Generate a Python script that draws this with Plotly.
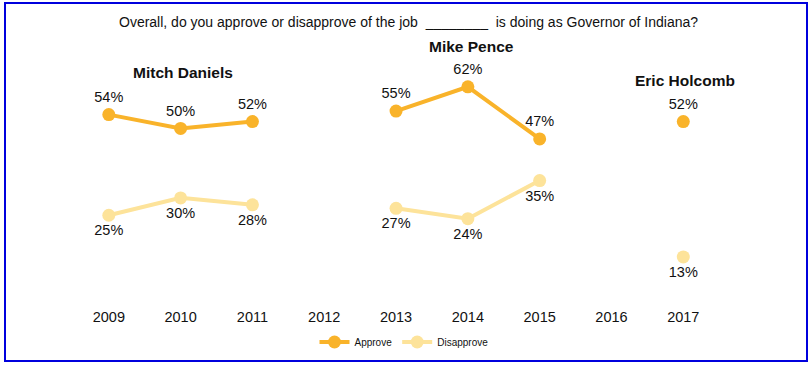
import plotly.graph_objects as go

years = [2009, 2010, 2011, 2012, 2013, 2014, 2015, 2016, 2017]
approve = [54, 50, 52, None, 55, 62, 47, None, 52]
disapprove = [25, 30, 28, None, 27, 24, 35, None, 13]
governors = ["Mitch Daniels", "Mike Pence", "Eric Holcomb"]
gov_x = [2010.03, 2014.05, 2017.03]
gov_y = [66, 73.5, 63.7]

title = "Overall, do you approve or disapprove of the job  ________  is doing as Governor of Indiana?"

C_APP = "#F9B32A"
C_DIS = "#FDE39A"
FONT = "Liberation Sans, Arial"

W, H = 812, 369
L, R, T, B = 37, 21, 7, 67

def lbl(v):
    return [f"{x}%" if x is not None else "" for x in v]

fig = go.Figure()
fig.add_trace(go.Scatter(
    x=years, y=approve, name="Approve", mode="lines+markers+text",
    line=dict(color=C_APP, width=4), marker=dict(size=13, color=C_APP),
    text=lbl(approve), textposition="top center",
    textfont=dict(size=14.5, color="#111", family=FONT),
    connectgaps=False, cliponaxis=False))
fig.add_trace(go.Scatter(
    x=years, y=disapprove, name="Disapprove", mode="lines+markers+text",
    line=dict(color=C_DIS, width=4), marker=dict(size=13, color=C_DIS),
    text=lbl(disapprove), textposition="bottom center",
    textfont=dict(size=14.5, color="#111", family=FONT),
    connectgaps=False, cliponaxis=False))

for name, gx, gy in zip(governors, gov_x, gov_y):
    fig.add_annotation(x=gx, y=gy, text=f"<b>{name}</b>", showarrow=False,
                       xanchor="center", yanchor="middle",
                       font=dict(size=15.5, color="#111", family=FONT))

pw, ph = W - L - R, H - T - B
def px(x):
    return (x - L) / pw
def py(y):
    return (H - B - y) / ph

fig.add_shape(type="rect", xref="paper", yref="paper",
              x0=px(5), x1=px(807), y0=py(361), y1=py(3),
              line=dict(color="#0000DD", width=2), fillcolor="rgba(0,0,0,0)")

fig.add_annotation(xref="paper", yref="paper", x=px(408), y=py(22),
                   xanchor="center", yanchor="middle",
                   text=title, showarrow=False,
                   font=dict(size=14, color="#111", family=FONT))

fig.update_layout(
    width=W, height=H, margin=dict(l=L, r=R, t=T, b=B),
    paper_bgcolor="white", plot_bgcolor="white",
    showlegend=True, hovermode=False,
    legend=dict(orientation="h", xanchor="center", yanchor="middle",
                x=px(404), y=py(342),
                font=dict(size=10, color="#111", family=FONT),
                itemwidth=30),
    xaxis=dict(range=[2008, 2018.5], tickmode="array", tickvals=years,
               ticktext=[str(y) for y in years], showgrid=False, zeroline=False,
               showline=False, ticks="", ticklabelstandoff=4,
               tickfont=dict(size=14.5, color="#111", family=FONT)),
    yaxis=dict(range=[0, 85], visible=False),
)

fig.write_html("out.html", config={"displayModeBar": False},
               post_script="document.body.style.margin='0';document.body.style.overflow='hidden';")
